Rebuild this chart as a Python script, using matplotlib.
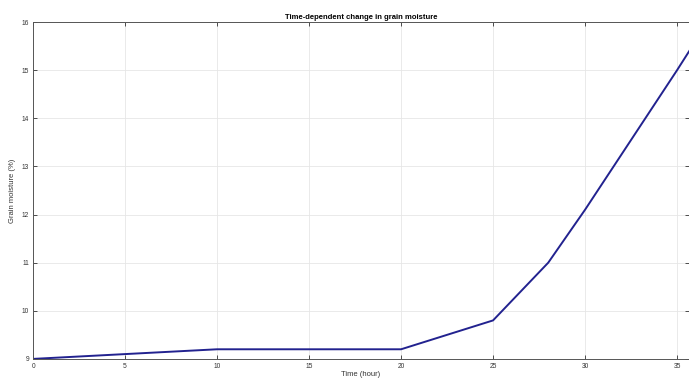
import matplotlib
matplotlib.use('Agg')
import matplotlib.pyplot as plt

# data
time_hours = [0, 5, 10, 15, 20, 25, 28, 30, 35, 36]
moisture = [9.0, 9.1, 9.2, 9.2, 9.2, 9.8, 11.0, 12.1, 15.0, 15.6]
x_ticks = [0, 5, 10, 15, 20, 25, 30, 35]
y_ticks = [9, 10, 11, 12, 13, 14, 15, 16]

plt.rcParams['font.family'] = ['Liberation Sans', 'DejaVu Sans']

fig = plt.figure(figsize=(6.89, 3.81), dpi=100)
ax = fig.add_axes([0.048, 0.058, 0.952, 0.884])

ax.plot(time_hours, moisture, color='#22228f', linewidth=1.4)

ax.set_xlim(0, 35.65)
ax.set_ylim(9, 16)
ax.set_xticks(x_ticks)
ax.set_yticks(y_ticks)
ax.grid(True, color='#e6e6e6', linewidth=0.6)
ax.set_axisbelow(True)
ax.tick_params(direction='in', length=3, width=0.6, labelsize=4.8,
               colors='#333333', top=True, right=True, pad=3)
for s in ax.spines.values():
    s.set_color('#555555')
    s.set_linewidth(0.7)

ax.set_title('Time-dependent change in grain moisture', fontsize=5.5,
             fontweight='bold', pad=2)
ax.set_xlabel('Time (hour)', fontsize=5.5, labelpad=1, color='#333333')
ax.set_ylabel('Grain moisture (%)', fontsize=5.5, labelpad=4, color='#333333')

fig.savefig('out.png', dpi=100)
plt.close(fig)
